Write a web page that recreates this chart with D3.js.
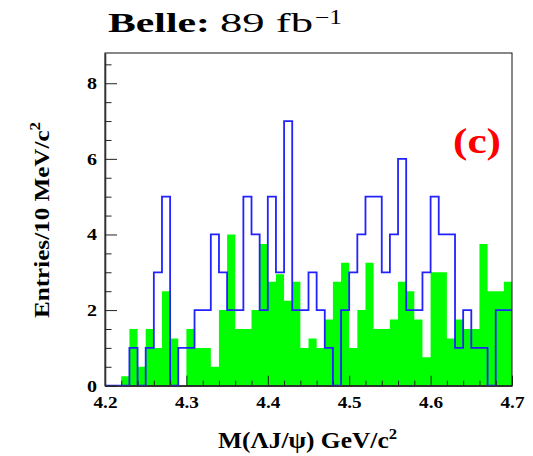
<!DOCTYPE html>
<html><head><meta charset="utf-8">
<script src="https://cdn.jsdelivr.net/npm/d3@7"></script>
<style>body{margin:0;background:#fff} svg{display:block}</style>
</head><body><svg id="c" width="533" height="456"></svg>
<script>
// Bin lower edges (GeV/c^2), 10 MeV bins
const binLow = [4.20,4.21,4.22,4.23,4.24,4.25,4.26,4.27,4.28,4.29,
                4.30,4.31,4.32,4.33,4.34,4.35,4.36,4.37,4.38,4.39,
                4.40,4.41,4.42,4.43,4.44,4.45,4.46,4.47,4.48,4.49,
                4.50,4.51,4.52,4.53,4.54,4.55,4.56,4.57,4.58,4.59,
                4.60,4.61,4.62,4.63,4.64,4.65,4.66,4.67,4.68,4.69];
const binHigh = 4.70;
// Green filled histogram (scaled sideband)
const green = [0,0,0.25,1.5,0.5,1.5,1.0,2.5,1.25,0,
               1.5,1.0,1.0,0.5,2.0,4.0,1.5,1.5,2.0,3.75,
               2.75,2.95,2.25,2.75,1.0,1.25,1.0,1.75,2.75,3.25,
               1.0,2.0,3.25,1.5,1.5,1.75,2.75,2.5,1.75,0.75,
               3.0,3.0,1.25,1.75,1.5,1.5,3.75,2.5,2.5,2.75];
// Blue outline histogram (data)
const blue = [0,0,0,1,0,1,3,5,0,1,
              1,2,2,4,3,2,2,5,4,2,
              5,3,7,2,2,3,2,1,0,2,
              3,4,5,5,3,4,6,2,2,3,
              5,4,4,1,2,1,1,0,2,2];
const xTicks = [4.2,4.3,4.4,4.5,4.6,4.7];
const xTickLabels = ["4.2","4.3","4.4","4.5","4.6","4.7"];
const xMinorTicks = [4.22,4.24,4.26,4.28,4.32,4.34,4.36,4.38,4.42,4.44,4.46,4.48,
                     4.52,4.54,4.56,4.58,4.62,4.64,4.66,4.68];
const yTicks = [0,2,4,6,8];
const yTickLabels = ["0","2","4","6","8"];
const yMinorTicks = [0.5,1,1.5,2.5,3,3.5,4.5,5,5.5,6.5,7,7.5,8.5];

const svg = d3.select("#c");
const serif = "Liberation Serif, Times New Roman, serif";
const L = 105, R = 512, T = 53, B = 385.7;
const x = d3.scaleLinear().domain([4.2, 4.7]).range([L, R]);
const y = d3.scaleLinear().domain([0, 8.8]).range([B, T]);

// green area
const gPts = binLow.map((b, i) => [b, green[i]]).concat([[binHigh, green[green.length - 1]]]);
svg.append("path")
  .attr("d", d3.area().curve(d3.curveStepAfter)
    .x(d => x(d[0])).y0(y(0)).y1(d => y(d[1]))(gPts))
  .attr("fill", "#00ff00");

// frame
svg.append("rect").attr("x", L).attr("y", T).attr("width", R - L).attr("height", B - T)
  .attr("fill", "none").attr("stroke", "#111").attr("stroke-width", 1);

// blue step line
const bPts = [[binLow[0], 0]].concat(binLow.map((b, i) => [b, blue[i]]))
  .concat([[binHigh, blue[blue.length - 1]]]);
svg.append("path")
  .attr("d", d3.line().curve(d3.curveStepAfter).x(d => x(d[0])).y(d => y(d[1]))(bPts))
  .attr("fill", "none").attr("stroke", "#2222ff").attr("stroke-width", 1.8);

// axes
const xAx = svg.append("g").attr("transform", `translate(0,${B})`)
  .call(d3.axisBottom(x).tickValues(xTicks).tickFormat((d, i) => xTickLabels[i])
    .tickSize(-10).tickSizeOuter(0).tickPadding(10));
xAx.append("g").call(d3.axisBottom(x).tickValues(xMinorTicks).tickFormat("").tickSize(-5).tickSizeOuter(0))
  .select(".domain").remove();
const yAx = svg.append("g").attr("transform", `translate(${L},0)`)
  .call(d3.axisLeft(y).tickValues(yTicks).tickFormat((d, i) => yTickLabels[i])
    .tickSize(-12).tickSizeOuter(0).tickPadding(8));
yAx.append("g").call(d3.axisLeft(y).tickValues(yMinorTicks).tickFormat("").tickSize(-6.5).tickSizeOuter(0))
  .select(".domain").remove();
svg.selectAll(".domain").attr("stroke", "#333").attr("stroke-width", 1.6);
svg.selectAll(".tick line").attr("stroke", "#222").attr("stroke-width", 1);
xAx.selectAll(".tick text").attr("font-family", serif).attr("font-weight", "bold")
  .attr("font-size", 17).attr("fill", "#000").attr("textLength", 24).attr("lengthAdjust", "spacingAndGlyphs");
yAx.selectAll(".tick text").attr("font-family", serif).attr("font-weight", "bold")
  .attr("font-size", 17).attr("fill", "#000").attr("textLength", 10).attr("lengthAdjust", "spacingAndGlyphs");

// title
svg.append("text").attr("x", 108).attr("y", 32).attr("font-family", serif).attr("font-weight", "bold")
  .attr("font-size", 28).attr("textLength", 102).attr("lengthAdjust", "spacingAndGlyphs").text("Belle:");
svg.append("text").attr("x", 220).attr("y", 32).attr("font-family", serif)
  .attr("font-size", 27).attr("textLength", 93).attr("lengthAdjust", "spacingAndGlyphs").text("89 fb");
svg.append("text").attr("x", 315).attr("y", 24).attr("font-family", serif)
  .attr("font-size", 20).attr("textLength", 27).attr("lengthAdjust", "spacingAndGlyphs").text("\u22121");

// x label
const xl = svg.append("text").attr("x", 218).attr("y", 448).attr("font-family", serif)
  .attr("font-weight", "bold").attr("font-size", 23)
  .attr("textLength", 179).attr("lengthAdjust", "spacingAndGlyphs");
xl.append("tspan").text("M(\u039BJ/\u03C8) GeV/c");
xl.append("tspan").attr("font-size", 15).attr("dy", -9).text("2");

// y label
const yl = svg.append("text").attr("transform", "translate(49,318) rotate(-90)")
  .attr("font-family", serif).attr("font-weight", "bold").attr("font-size", 21)
  .attr("textLength", 196).attr("lengthAdjust", "spacingAndGlyphs");
yl.append("tspan").text("Entries/10 MeV/c");
yl.append("tspan").attr("font-size", 14).attr("dy", -9).text("2");

// (c) label
svg.append("text").attr("x", 453).attr("y", 153).attr("font-family", serif).attr("font-weight", "bold")
  .attr("font-size", 36).attr("fill", "#ff0000")
  .attr("textLength", 48).attr("lengthAdjust", "spacingAndGlyphs").text("(c)");
</script></body></html>
